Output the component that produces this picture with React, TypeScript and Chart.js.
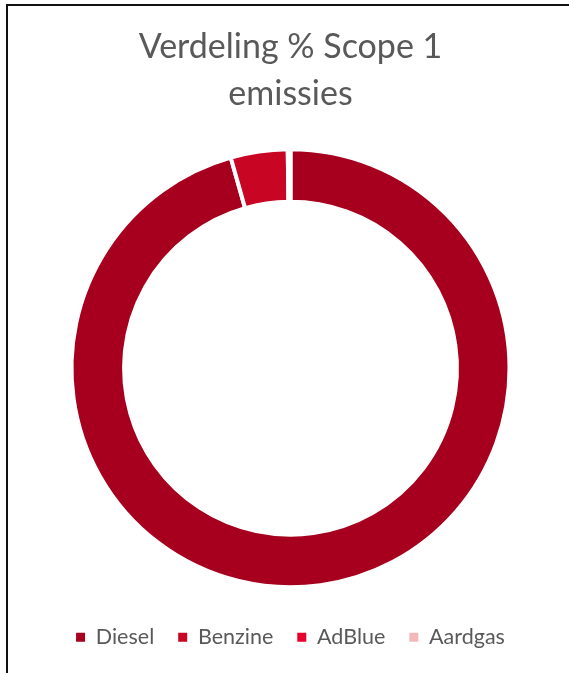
import React, { useEffect, useRef } from "react";
import { Chart, registerables } from "chart.js";

Chart.register(...registerables);

const categories: string[] = ["Diesel", "Benzine", "AdBlue", "Aardgas"];
const shares: number[] = [95.6, 4.2, 0.2, 0];
const sliceColors: string[] = ["#A6001E", "#C80523", "#E6002B", "#F2B8BA"];
const titleLines: string[] = ["Verdeling % Scope 1", "emissies"];

export default function App() {
  const ref = useRef<HTMLCanvasElement | null>(null);
  useEffect(() => {
    if (!ref.current) return;
    const chart = new Chart(ref.current, {
      type: "doughnut",
      data: {
        labels: categories,
        datasets: [
          {
            data: shares,
            backgroundColor: sliceColors,
            borderColor: "#ffffff",
            borderWidth: 4,
          },
        ],
      },
      options: {
        animation: false,
        responsive: false,
        maintainAspectRatio: false,
        radius: 219,
        cutout: "76%",
        layout: { padding: { left: 4, right: 0, top: 0, bottom: 24 } },
        plugins: {
          tooltip: { enabled: false },
          title: {
            display: true,
            text: titleLines,
            color: "#595959",
            font: { family: "Lato", size: 34, weight: "normal", lineHeight: 47 / 34 },
            padding: { top: 18, bottom: 16 },
          },
          legend: {
            display: true,
            position: "bottom",
            labels: {
              boxWidth: 9,
              boxHeight: 9,
              padding: 24,
              color: "#595959",
              font: { family: "Lato", size: 21.5 },
              generateLabels: () =>
                categories.map((text, i) => ({
                  text,
                  fillStyle: sliceColors[i],
                  strokeStyle: sliceColors[i],
                  lineWidth: 0,
                  hidden: false,
                  index: i,
                  fontColor: "#595959",
                })),
            },
          },
        },
      },
    });
    return () => chart.destroy();
  }, []);

  return (
    <div
      style={{
        position: "fixed",
        left: 0,
        top: 0,
        width: 569,
        height: 673,
        overflow: "hidden",
        background: "#fff",
      }}
    >
      <div
        style={{
          position: "absolute",
          left: 6,
          top: 4,
          width: 563,
          height: 669,
          borderTop: "2px solid #111",
          borderLeft: "2px solid #111",
          boxSizing: "border-box",
          overflow: "hidden",
        }}
      >
        <canvas ref={ref} width={561} height={676} style={{ display: "block" }} />
      </div>
    </div>
  );
}
